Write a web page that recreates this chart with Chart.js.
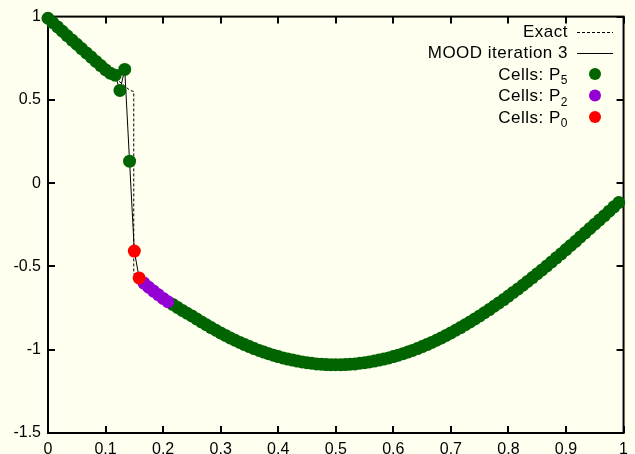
<!DOCTYPE html>
<html lang="en">
<head>
  <meta charset="UTF-8">
  <title>MOOD iteration 3</title>
  <script src="https://cdn.jsdelivr.net/npm/chart.js"></script>
  <style>
    body {
      margin: 0;
      background: #fffff0;
    }
    #wrap {
      width: 635px;
      height: 454px;
    }
  </style>
</head>
<body>

<div id="wrap">
  <canvas id="moodChart" width="635" height="454"></canvas>
</div>

<script>
  // cell centres (120 cells on [0,1])
  const cellX = [
    0, 0.0083, 0.0167, 0.025, 0.0333, 0.0417, 0.05, 0.0583, 0.0667, 0.075,
    0.0833, 0.0917, 0.1, 0.1083, 0.1167, 0.125, 0.1333, 0.1417, 0.15, 0.1583,
    0.1667, 0.175, 0.1833, 0.1917, 0.2, 0.2083, 0.2167, 0.225, 0.2333, 0.2417,
    0.25, 0.2583, 0.2667, 0.275, 0.2833, 0.2917, 0.3, 0.3083, 0.3167, 0.325,
    0.3333, 0.3417, 0.35, 0.3583, 0.3667, 0.375, 0.3833, 0.3917, 0.4, 0.4083,
    0.4167, 0.425, 0.4333, 0.4417, 0.45, 0.4583, 0.4667, 0.475, 0.4833, 0.4917,
    0.5, 0.5083, 0.5167, 0.525, 0.5333, 0.5417, 0.55, 0.5583, 0.5667, 0.575,
    0.5833, 0.5917, 0.6, 0.6083, 0.6167, 0.625, 0.6333, 0.6417, 0.65, 0.6583,
    0.6667, 0.675, 0.6833, 0.6917, 0.7, 0.7083, 0.7167, 0.725, 0.7333, 0.7417,
    0.75, 0.7583, 0.7667, 0.775, 0.7833, 0.7917, 0.8, 0.8083, 0.8167, 0.825,
    0.8333, 0.8417, 0.85, 0.8583, 0.8667, 0.875, 0.8833, 0.8917, 0.9, 0.9083,
    0.9167, 0.925, 0.9333, 0.9417, 0.95, 0.9583, 0.9667, 0.975, 0.9833, 0.9917
  ];

  // MOOD iteration 3 cell values
  const moodY = [
    0.990, 0.964, 0.938, 0.912, 0.885, 0.859, 0.834, 0.808, 0.782, 0.757,
    0.731, 0.706, 0.681, 0.660, 0.648, 0.557, 0.683, 0.132, -0.408, -0.569,
    -0.600, -0.625, -0.648, -0.670, -0.692, -0.712, -0.728, -0.746, -0.764, -0.781,
    -0.797, -0.815, -0.833, -0.850, -0.867, -0.883, -0.899, -0.914, -0.929, -0.943,
    -0.956, -0.969, -0.981, -0.993, -1.004, -1.014, -1.024, -1.033, -1.041, -1.049,
    -1.056, -1.062, -1.068, -1.073, -1.078, -1.081, -1.085, -1.087, -1.089, -1.090,
    -1.090, -1.090, -1.089, -1.087, -1.085, -1.081, -1.078, -1.073, -1.068, -1.062,
    -1.056, -1.049, -1.041, -1.033, -1.024, -1.014, -1.004, -0.993, -0.981, -0.969,
    -0.956, -0.943, -0.929, -0.914, -0.899, -0.883, -0.867, -0.850, -0.833, -0.815,
    -0.797, -0.778, -0.759, -0.739, -0.719, -0.699, -0.678, -0.656, -0.635, -0.613,
    -0.590, -0.567, -0.544, -0.521, -0.497, -0.473, -0.448, -0.424, -0.399, -0.374,
    -0.349, -0.323, -0.298, -0.272, -0.246, -0.221, -0.195, -0.168, -0.142, -0.116
  ];

  // which cells were computed with which polynomial degree (rest are P5)
  const p0Cells = [18, 19];
  const p2Cells = [20, 21, 22, 23, 24, 25];

  // exact solution (shock at x ~ 0.149)
  const exactX = [
    0, 0.0083, 0.0167, 0.025, 0.0333, 0.0417, 0.05, 0.0583, 0.0667, 0.075,
    0.0833, 0.0917, 0.1, 0.1083, 0.1167, 0.125, 0.1333, 0.1417, 0.149, 0.149,
    0.15, 0.1583, 0.1667, 0.175, 0.1833, 0.1917, 0.2, 0.2083, 0.2167, 0.225,
    0.2333, 0.2417, 0.25, 0.2583, 0.2667, 0.275, 0.2833, 0.2917, 0.3, 0.3083,
    0.3167, 0.325, 0.3333, 0.3417, 0.35, 0.3583, 0.3667, 0.375, 0.3833, 0.3917,
    0.4, 0.4083, 0.4167, 0.425, 0.4333, 0.4417, 0.45, 0.4583, 0.4667, 0.475,
    0.4833, 0.4917, 0.5, 0.5083, 0.5167, 0.525, 0.5333, 0.5417, 0.55, 0.5583,
    0.5667, 0.575, 0.5833, 0.5917, 0.6, 0.6083, 0.6167, 0.625, 0.6333, 0.6417,
    0.65, 0.6583, 0.6667, 0.675, 0.6833, 0.6917, 0.7, 0.7083, 0.7167, 0.725,
    0.7333, 0.7417, 0.75, 0.7583, 0.7667, 0.775, 0.7833, 0.7917, 0.8, 0.8083,
    0.8167, 0.825, 0.8333, 0.8417, 0.85, 0.8583, 0.8667, 0.875, 0.8833, 0.8917,
    0.9, 0.9083, 0.9167, 0.925, 0.9333, 0.9417, 0.95, 0.9583, 0.9667, 0.975,
    0.9833, 0.9917
  ];
  const exactY = [
    0.990, 0.964, 0.938, 0.912, 0.885, 0.859, 0.834, 0.808, 0.782, 0.757,
    0.731, 0.706, 0.681, 0.656, 0.632, 0.607, 0.583, 0.559, 0.550, -0.545,
    -0.544, -0.567, -0.590, -0.613, -0.635, -0.656, -0.678, -0.699, -0.719, -0.739,
    -0.759, -0.778, -0.797, -0.815, -0.833, -0.850, -0.867, -0.883, -0.899, -0.914,
    -0.929, -0.943, -0.956, -0.969, -0.981, -0.993, -1.004, -1.014, -1.024, -1.033,
    -1.041, -1.049, -1.056, -1.062, -1.068, -1.073, -1.078, -1.081, -1.085, -1.087,
    -1.089, -1.090, -1.090, -1.090, -1.089, -1.087, -1.085, -1.081, -1.078, -1.073,
    -1.068, -1.062, -1.056, -1.049, -1.041, -1.033, -1.024, -1.014, -1.004, -0.993,
    -0.981, -0.969, -0.956, -0.943, -0.929, -0.914, -0.899, -0.883, -0.867, -0.850,
    -0.833, -0.815, -0.797, -0.778, -0.759, -0.739, -0.719, -0.699, -0.678, -0.656,
    -0.635, -0.613, -0.590, -0.567, -0.544, -0.521, -0.497, -0.473, -0.448, -0.424,
    -0.399, -0.374, -0.349, -0.323, -0.298, -0.272, -0.246, -0.221, -0.195, -0.168,
    -0.142, -0.116
  ];

  const FONT = '"Liberation Sans", Arial, Helvetica, sans-serif';

  const moodPts = cellX.map((x, i) => ({ x: x, y: moodY[i] }));
  const exactPts = exactX.map((x, i) => ({ x: x, y: exactY[i] }));
  const pick = idx => idx.map(i => moodPts[i]);
  const p5Cells = cellX.map((x, i) => i).filter(i => !p0Cells.includes(i) && !p2Cells.includes(i));

  const legendRows = [
    { text: 'Exact', kind: 'dash' },
    { text: 'MOOD iteration 3', kind: 'line' },
    { text: 'Cells: P', sub: '5', kind: 'dot', color: '#006400' },
    { text: 'Cells: P', sub: '2', kind: 'dot', color: '#9400d3' },
    { text: 'Cells: P', sub: '0', kind: 'dot', color: '#ff0000' }
  ];

  // gnuplot style border with inward ticks on all four sides
  const framePlugin = {
    id: 'frame',
    beforeDatasetsDraw(chart) {
      const { ctx, chartArea: a, scales } = chart;
      ctx.save();
      ctx.strokeStyle = '#000';
      ctx.lineWidth = 2;
      ctx.strokeRect(a.left, a.top, a.right - a.left, a.bottom - a.top);
      ctx.beginPath();
      scales.x.ticks.forEach(t => {
        const px = Math.round(scales.x.getPixelForValue(t.value));
        ctx.moveTo(px, a.bottom); ctx.lineTo(px, a.bottom - 7);
        ctx.moveTo(px, a.top); ctx.lineTo(px, a.top + 7);
      });
      scales.y.ticks.forEach(t => {
        const py = Math.round(scales.y.getPixelForValue(t.value));
        ctx.moveTo(a.left, py); ctx.lineTo(a.left + 7, py);
        ctx.moveTo(a.right, py); ctx.lineTo(a.right - 7, py);
      });
      ctx.stroke();
      ctx.restore();
    }
  };

  const keyPlugin = {
    id: 'key',
    afterDraw(chart) {
      const ctx = chart.ctx;
      const textRight = 568, sampleL = 577, sampleR = 613, dotX = 595;
      const rowY = [32, 53, 74, 95.5, 117];
      ctx.save();
      ctx.fillStyle = '#000';
      ctx.textBaseline = 'middle';
      legendRows.forEach((r, k) => {
        const y = rowY[k];
        ctx.letterSpacing = '0.5px';
        if (r.sub) {
          ctx.font = '12px ' + FONT;
          const sw = ctx.measureText(r.sub).width;
          ctx.textAlign = 'left';
          ctx.fillText(r.sub, textRight - sw, y + 7);
          ctx.font = '17px ' + FONT;
          ctx.textAlign = 'right';
          ctx.fillText(r.text, textRight - sw, y + 1);
        } else {
          ctx.font = '17px ' + FONT;
          ctx.textAlign = 'right';
          ctx.fillText(r.text, textRight, y);
        }
        ctx.letterSpacing = '0px';
        if (r.kind === 'dot') {
          ctx.beginPath();
          ctx.fillStyle = r.color;
          ctx.arc(dotX, y, 6, 0, Math.PI * 2);
          ctx.fill();
          ctx.fillStyle = '#000';
        } else {
          ctx.beginPath();
          ctx.strokeStyle = '#000';
          ctx.lineWidth = 1;
          ctx.setLineDash(r.kind === 'dash' ? [3, 2] : []);
          ctx.moveTo(sampleL, y + 0.5);
          ctx.lineTo(sampleR, y + 0.5);
          ctx.stroke();
          ctx.setLineDash([]);
        }
      });
      ctx.restore();
    }
  };

  const dotSet = (label, pts, color) => ({
    label: label,
    data: pts,
    backgroundColor: color,
    borderWidth: 0,
    pointRadius: 6.5,
    pointHoverRadius: 6.5,
    pointBorderWidth: 0,
    clip: false
  });

  new Chart(document.getElementById('moodChart'), {
    type: 'scatter',
    data: {
      datasets: [
        dotSet('Cells: P0', pick(p0Cells), '#ff0000'),
        dotSet('Cells: P2', pick(p2Cells), '#9400d3'),
        dotSet('Cells: P5', pick(p5Cells), '#006400'),
        {
          label: 'MOOD iteration 3',
          data: moodPts,
          showLine: true,
          borderColor: '#000',
          borderWidth: 1,
          pointRadius: 0,
          pointHoverRadius: 0
        },
        {
          label: 'Exact',
          data: exactPts,
          showLine: true,
          borderColor: '#000',
          borderWidth: 1,
          borderDash: [3, 2],
          pointRadius: 0,
          pointHoverRadius: 0
        }
      ]
    },
    options: {
      responsive: false,
      animation: false,
      devicePixelRatio: 1,
      layout: { padding: { top: 15, right: 7, left: 0, bottom: 0 } },
      plugins: {
        legend: { display: false },
        tooltip: { enabled: false }
      },
      scales: {
        x: {
          type: 'linear',
          min: 0,
          max: 1,
          grid: { display: false, drawTicks: false },
          border: { display: false },
          ticks: {
            stepSize: 0.1,
            autoSkip: false,
            maxRotation: 0,
            padding: 7,
            color: '#000',
            font: { family: FONT, size: 16 },
            callback: v => String(+v.toFixed(2))
          },
          afterFit: s => { s.height = 21; }
        },
        y: {
          type: 'linear',
          min: -1.5,
          max: 1,
          grid: { display: false, drawTicks: false },
          border: { display: false },
          ticks: {
            stepSize: 0.5,
            autoSkip: false,
            padding: 7,
            color: '#000',
            font: { family: FONT, size: 16 },
            callback: v => String(+v.toFixed(2))
          },
          afterFit: s => { s.width = 48; }
        }
      }
    },
    plugins: [framePlugin, keyPlugin]
  });
</script>

</body>
</html>
